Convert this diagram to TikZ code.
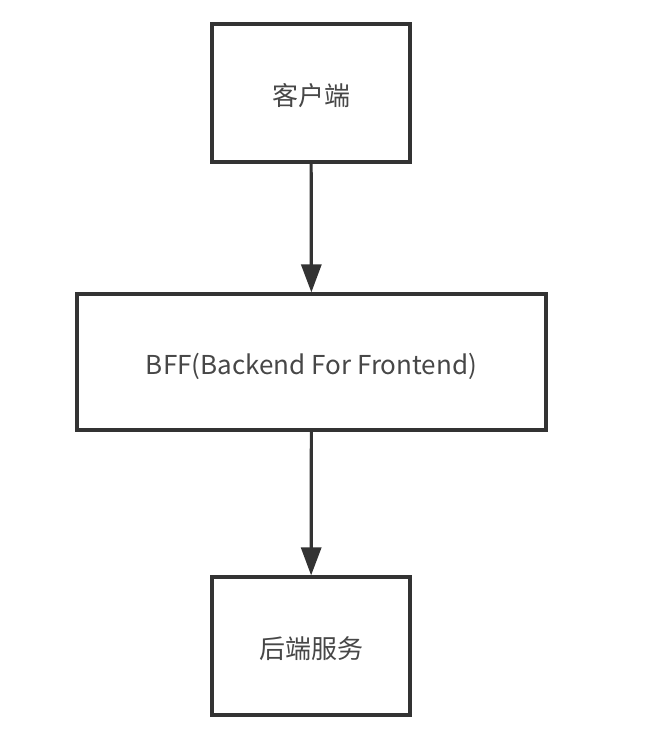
\documentclass[tikz,border=0pt]{standalone}
\usepackage{fontspec}
\setmainfont{Noto Sans CJK SC}
\usetikzlibrary{arrows.meta}
\definecolor{linegray}{HTML}{333333}
\tikzset{
  box/.style={draw=linegray,line width=2.4pt,fill=white,inner sep=0pt,
    font=\fontsize{19.5}{22}\selectfont,text=linegray!90,
    text height=19pt,text depth=0pt},
  flow/.style={draw=linegray,line width=2.4pt,-{Triangle[length=21pt,width=15pt]}}
}
\begin{document}
\begin{tikzpicture}[x=0.75pt,y=-0.75pt]
\useasboundingbox (0,0) rectangle (664,740);
\node[box,minimum width=148.5pt,minimum height=103.5pt] (client) at (311,93) {客户端};
\node[box,minimum width=351.75pt,minimum height=102pt] (bff) at (311.5,362) {BFF(Backend For Frontend)};
\node[box,minimum width=148.5pt,minimum height=103.5pt] (server) at (311,646) {后端服务};
\draw[flow] (client) -- (bff);
\draw[flow] (bff) -- (server);
\end{tikzpicture}
\end{document}
